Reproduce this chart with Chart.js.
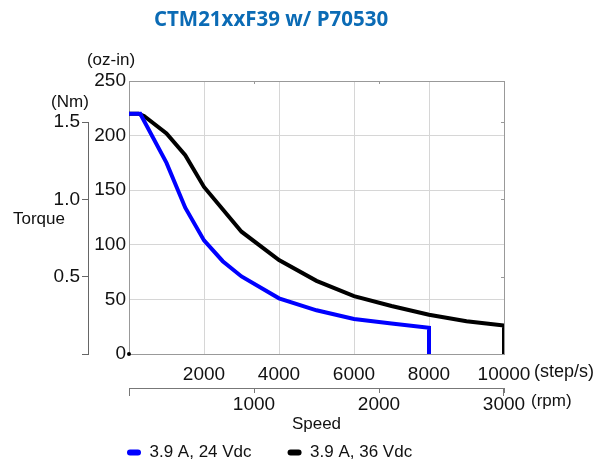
<!DOCTYPE html>
<html>
<head>
<meta charset="utf-8">
<script src="https://cdn.jsdelivr.net/npm/chart.js@4"></script>
<style>
  html, body { margin: 0; padding: 0; background: #fff; }
  #wrap { width: 604px; height: 461px; }
</style>
</head>
<body>
<div id="wrap"><canvas id="torqueChart" width="604" height="461"></canvas></div>
<script>
// speed in step/s, torque in oz-in
const speed24 = [0, 300, 1000, 1500, 2000, 2500, 3000, 4000, 5000, 6000, 7000, 8000, 8000];
const torque24 = [220, 220, 175, 134, 104, 85, 71, 51, 40, 32, 28, 24, 0];
const speed36 = [0, 250, 400, 1000, 1500, 2000, 3000, 4000, 5000, 6000, 7000, 8000, 9000, 10000, 10000];
const torque36 = [220, 220, 218, 202, 182, 153, 112, 86, 67, 53, 44, 36, 30, 26, 0];
const seriesNames = ['3.9 A, 24 Vdc', '3.9 A, 36 Vdc'];
const stepTicks = [0, 2000, 4000, 6000, 8000, 10000];
const rpmTicks = [0, 1000, 2000, 3000];
const nmTicks = [0, 0.5, 1.0, 1.5];

const OZIN_PER_NM = 141.612;

Chart.defaults.font.family = "'Liberation Sans', Arial, sans-serif";
Chart.defaults.color = '#111';

function toPoints(xs, ys) {
    return xs.map((x, i) => ({ x: x, y: ys[i] }));
}

const extras = {
    id: 'extras',
    afterLayout(chart) {
        // legend sits under the plot, title is centred a bit right
        chart.legend.left = 91;
        chart.legend.top = 408;
        chart.titleBlock.left = 0;
        chart.titleBlock.right = 542;
    },
    beforeDatasetsDraw(chart) {
        const { ctx, chartArea: a } = chart;
        const x2 = chart.scales.x2, yNm = chart.scales.yNm;
        ctx.save();
        ctx.strokeStyle = '#999';
        ctx.lineWidth = 1;
        ctx.strokeRect(a.left + 0.5, a.top + 0.5, a.right - a.left, a.bottom - a.top);
        // small ticks on top (rpm) and right (Nm)
        ctx.beginPath();
        [1000, 2000].forEach(v => {
            const px = Math.round(x2.getPixelForValue(v)) + 0.5;
            ctx.moveTo(px, a.top);
            ctx.lineTo(px, a.top + 3);
        });
        [0.5, 1.0, 1.5].forEach(v => {
            const py = Math.round(yNm.getPixelForValue(v)) + 0.5;
            ctx.moveTo(a.right, py);
            ctx.lineTo(a.right - 3, py);
        });
        ctx.stroke();
        ctx.restore();
    },
    afterDraw(chart) {
        const { ctx } = chart;
        const yNm = chart.scales.yNm, x = chart.scales.x, y = chart.scales.y, x2 = chart.scales.x2;
        ctx.save();
        // Nm axis line only up to 1.5
        ctx.strokeStyle = '#666';
        ctx.lineWidth = 1;
        ctx.beginPath();
        const ax = Math.round(yNm.right) - 0.5;
        ctx.moveTo(ax, yNm.getPixelForValue(0));
        ctx.lineTo(ax, yNm.getPixelForValue(1.5));
        ctx.stroke();
        // longer end ticks on the rpm axis
        ctx.strokeStyle = '#777';
        ctx.beginPath();
        [rpmTicks[0], rpmTicks[rpmTicks.length - 1]].forEach(v => {
            const px = Math.round(x2.getPixelForValue(v)) + (v === 0 ? 0.5 : -0.5);
            ctx.moveTo(px, x2.top);
            ctx.lineTo(px, x2.top + 8);
        });
        ctx.stroke();
        // dot at origin
        ctx.fillStyle = '#000';
        ctx.beginPath();
        ctx.arc(x.getPixelForValue(0), y.getPixelForValue(0), 2, 0, Math.PI * 2);
        ctx.fill();
        // unit labels
        ctx.fillStyle = '#111';
        ctx.textBaseline = 'middle';
        ctx.font = "17px 'Liberation Sans', Arial, sans-serif";
        ctx.textAlign = 'center';
        ctx.fillText('(oz-in)', 111, 60);
        ctx.fillText('(Nm)', 70, 102);
        ctx.textAlign = 'left';
        ctx.fillText('Torque', 13, 219);
        ctx.font = "18px 'Liberation Sans', Arial, sans-serif";
        ctx.fillText('(step/s)', 534, 372);
        ctx.font = "17px 'Liberation Sans', Arial, sans-serif";
        ctx.fillText('(rpm)', 531, 401);
        ctx.restore();
    }
};

const tickFont = { size: 19 };

new Chart(document.getElementById('torqueChart').getContext('2d'), {
    type: 'line',
    data: {
        datasets: [{
            label: seriesNames[0],
            data: toPoints(speed24, torque24),
            borderColor: '#0000ff',
            backgroundColor: '#0000ff',
            borderWidth: 4,
            pointRadius: 0,
            tension: 0,
            fill: false
        }, {
            label: seriesNames[1],
            data: toPoints(speed36, torque36),
            borderColor: '#000000',
            backgroundColor: '#000000',
            borderWidth: 4,
            pointRadius: 0,
            tension: 0,
            fill: false
        }]
    },
    options: {
        responsive: false,
        animation: false,
        layout: { padding: { top: 0, right: 100, bottom: 0, left: 0 } },
        plugins: {
            title: {
                display: true,
                text: 'CTM21xxF39 w/ P70530',
                color: '#0b6bb5',
                font: { family: "'Open Sans', sans-serif", size: 20.5, weight: 'bold', lineHeight: 1.2 },
                padding: { top: 8, bottom: 48.4 }
            },
            legend: {
                position: 'bottom',
                align: 'start',
                maxHeight: 29,
                labels: {
                    font: { size: 17 },
                    color: '#111',
                    boxWidth: 14,
                    boxHeight: 6,
                    useBorderRadius: true,
                    borderRadius: 3,
                    padding: 36,
                    generateLabels(chart) {
                        return Chart.defaults.plugins.legend.labels.generateLabels(chart).map(item => {
                            item.fillStyle = item.strokeStyle;
                            item.lineWidth = 0;
                            return item;
                        });
                    }
                }
            },
            tooltip: { enabled: false }
        },
        scales: {
            x: {
                type: 'linear',
                position: 'bottom',
                min: stepTicks[0],
                max: stepTicks[stepTicks.length - 1],
                weight: 0,
                afterBuildTicks: s => { s.ticks = stepTicks.map(v => ({ value: v })); },
                afterFit: s => { s.height = 34; },
                grid: { color: '#d6d6d6', drawTicks: false },
                border: { color: '#444' },
                ticks: {
                    font: tickFont,
                    padding: 9,
                    maxRotation: 0,
                    autoSkip: false,
                    callback: v => v === 0 ? '' : String(v)
                }
            },
            x2: {
                type: 'linear',
                position: 'bottom',
                min: rpmTicks[0],
                max: rpmTicks[rpmTicks.length - 1],
                weight: 1,
                afterBuildTicks: s => { s.ticks = rpmTicks.map(v => ({ value: v })); },
                afterFit: s => { s.height = 44; },
                grid: { drawOnChartArea: false, drawTicks: true, tickLength: 5, color: '#777' },
                border: { color: '#777' },
                ticks: {
                    font: tickFont,
                    padding: 0,
                    maxRotation: 0,
                    autoSkip: false,
                    callback: v => v === 0 ? '' : String(v)
                },
                title: {
                    display: true,
                    text: 'Speed',
                    font: { size: 17 },
                    padding: { top: 0, bottom: -3 }
                }
            },
            y: {
                type: 'linear',
                position: 'left',
                min: 0,
                max: 250,
                weight: 0,
                afterFit: s => { s.width = 40; },
                grid: { color: '#d6d6d6', drawTicks: false },
                border: { color: '#999' },
                ticks: { font: tickFont, stepSize: 50, padding: 3 }
            },
            yNm: {
                type: 'linear',
                position: 'left',
                min: 0,
                max: 250 / OZIN_PER_NM,
                weight: 1,
                afterBuildTicks: s => { s.ticks = nmTicks.map(v => ({ value: v })); },
                afterFit: s => { s.width = 89; },
                grid: { drawOnChartArea: false, drawTicks: true, tickLength: 7, color: '#666' },
                border: { display: false },
                ticks: {
                    font: tickFont,
                    padding: 2,
                    autoSkip: false,
                    callback: v => v === 0 ? '' : v.toFixed(1)
                }
            }
        }
    },
    plugins: [extras]
});
</script>
</body>
</html>
